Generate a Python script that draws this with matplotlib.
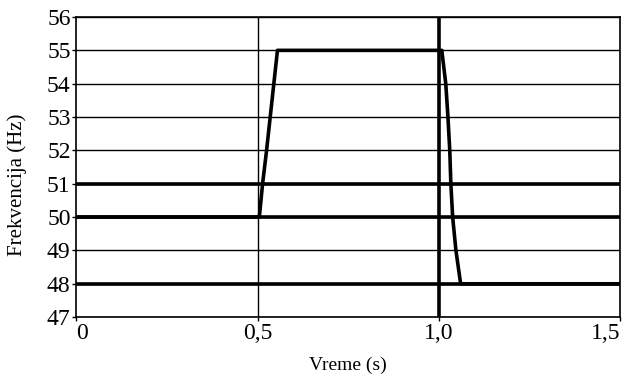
import matplotlib.pyplot as plt

# frequency response (time in s, frequency in Hz)
vreme = [0.0, 0.505, 0.514, 0.525, 0.535, 0.545, 0.555, 1.0, 1.008, 1.019,
         1.025, 1.030, 1.033, 1.038, 1.047, 1.060, 1.5]
frekvencija = [50, 50, 51, 52, 53, 54, 55, 55, 55, 54,
               53, 52, 51, 50, 49, 48, 48]

# reference levels drawn as heavy lines
granice = [48, 50, 51]

x_ticks = [0, 0.5, 1.0, 1.5]
x_labels = ['0', '0,5', '1,0', '1,5']
y_ticks = list(range(47, 57))

plt.rcParams['font.family'] = ['Liberation Serif', 'DejaVu Serif']

fig = plt.figure(figsize=(6.24, 3.78), dpi=100)
ax = fig.add_axes([0.122, 0.161, 0.872, 0.794])

for y in y_ticks:
    ax.axhline(y, color='black', lw=1.0, zorder=1)
ax.axvline(0.5, color='black', lw=1.0, zorder=1)
ax.axvline(1.0, color='black', lw=2.6, zorder=2)
for g in granice:
    ax.axhline(g, color='black', lw=2.6, zorder=2)

ax.plot(vreme, frekvencija, color='black', lw=2.6, zorder=3)

ax.set_xlim(0, 1.5)
ax.set_ylim(47, 56)
ax.set_xticks(x_ticks)
ax.set_xticklabels(x_labels)
ax.set_yticks(y_ticks)
ax.tick_params(labelsize=17, length=3, width=1, direction='out', pad=1)
# keep the end x labels inside the figure
ax.get_xticklabels()[-1].set_horizontalalignment('right')
ax.get_xticklabels()[0].set_horizontalalignment('left')
for s in ax.spines.values():
    s.set_linewidth(1.2)

ax.set_xlabel('Vreme (s)', fontsize=14)
ax.xaxis.set_label_coords(0.5, -0.132)
ax.set_ylabel('Frekvencija (Hz)', fontsize=15)
ax.yaxis.set_label_coords(-0.09, 0.44)

fig.savefig('out.png', dpi=100)
